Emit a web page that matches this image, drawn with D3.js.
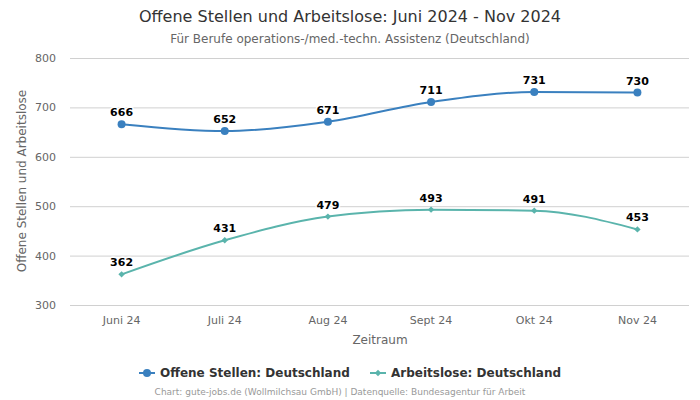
<!DOCTYPE html>
<html><head><meta charset="utf-8">
<script src="https://cdn.jsdelivr.net/npm/d3@7"></script>
<style>body{margin:0;background:#fff;font-family:"DejaVu Sans",sans-serif}</style>
</head><body><svg id="c" width="700" height="400"></svg>
<script>
const categories = ["Juni 24","Juli 24","Aug 24","Sept 24","Okt 24","Nov 24"];
const offeneStellen = [666,652,671,711,731,730];
const arbeitslose = [362,431,479,493,491,453];
const yTicks = [300,400,500,600,700,800];

const svg = d3.select("#c");
const F = "DejaVu Sans, sans-serif";
const x = d3.scaleBand().domain(categories).range([70,689]);
const y = d3.scaleLinear().domain([300,800]).range([305,58]);
const cx = d => x(d) + x.bandwidth()/2;

svg.append("text").attr("x",350).attr("y",22).attr("text-anchor","middle")
  .attr("font-family",F).attr("font-size",16).attr("fill","#333")
  .text("Offene Stellen und Arbeitslose: Juni 2024 - Nov 2024");
svg.append("text").attr("x",350).attr("y",43).attr("text-anchor","middle")
  .attr("font-family",F).attr("font-size",12).attr("fill","#666")
  .text("Für Berufe operations-/med.-techn. Assistenz (Deutschland)");

// grid
svg.append("g").selectAll("line").data(yTicks).join("line")
  .attr("x1",70).attr("x2",689).attr("y1",d=>y(d)+0.5).attr("y2",d=>y(d)+0.5)
  .attr("stroke","#d0d0d0").attr("stroke-width",1);

const ya = svg.append("g").attr("transform","translate(70,0)")
  .call(d3.axisLeft(y).tickValues(yTicks).tickSize(0).tickPadding(14));
ya.select(".domain").remove();
ya.selectAll("text").attr("font-family",F).attr("font-size",11).attr("fill","#666");

const xa = svg.append("g").attr("transform","translate(0,305)")
  .call(d3.axisBottom(x).tickSize(0).tickPadding(11));
xa.select(".domain").remove();
xa.selectAll("text").attr("font-family",F).attr("font-size",11).attr("fill","#666");

svg.append("text").attr("transform","translate(26,181) rotate(-90)").attr("text-anchor","middle")
  .attr("font-family",F).attr("font-size",12).attr("fill","#666").text("Offene Stellen und Arbeitslose");
svg.append("text").attr("x",380).attr("y",344).attr("text-anchor","middle")
  .attr("font-family",F).attr("font-size",12).attr("fill","#666").text("Zeitraum");

const blue = "#3a80bf", teal = "#5ab4ac";
const line = d3.line().x((d,i)=>cx(categories[i])).y(d=>y(d)).curve(d3.curveMonotoneX);

function series(vals,color,diamond){
  svg.append("path").attr("d",line(vals)).attr("fill","none").attr("stroke",color).attr("stroke-width",2);
  const g = svg.append("g");
  if(diamond){
    g.selectAll("path").data(vals).join("path")
      .attr("d",d3.symbol(d3.symbolDiamond2,26)())
      .attr("transform",(d,i)=>`translate(${cx(categories[i])},${y(d)})`)
      .attr("fill",color);
  } else {
    g.selectAll("circle").data(vals).join("circle")
      .attr("cx",(d,i)=>cx(categories[i])).attr("cy",d=>y(d)).attr("r",4).attr("fill",color);
  }
  svg.append("g").selectAll("text").data(vals).join("text")
    .attr("x",(d,i)=>cx(categories[i])).attr("y",d=>y(d)-8).attr("text-anchor","middle")
    .attr("font-family",F).attr("font-size",11).attr("font-weight","bold").attr("fill","#000")
    .attr("stroke","#fff").attr("stroke-width",3).attr("paint-order","stroke").attr("stroke-linejoin","round")
    .text(d=>d);
}
series(offeneStellen,blue,false);
series(arbeitslose,teal,true);

// legend
const lg = svg.append("g");
function legendItem(x0,color,label,diamond){
  lg.append("line").attr("x1",x0).attr("x2",x0+16).attr("y1",373).attr("y2",373).attr("stroke",color).attr("stroke-width",2);
  if(diamond) lg.append("path").attr("d",d3.symbol(d3.symbolDiamond2,26)()).attr("transform",`translate(${x0+8},373)`).attr("fill",color);
  else lg.append("circle").attr("cx",x0+8).attr("cy",373).attr("r",4).attr("fill",color);
  lg.append("text").attr("x",x0+21).attr("y",377).attr("font-family",F).attr("font-size",12)
    .attr("font-weight","bold").attr("fill","#333").text(label);
}
legendItem(139,blue,"Offene Stellen: Deutschland",false);
legendItem(370,teal,"Arbeitslose: Deutschland",true);

svg.append("text").attr("x",340).attr("y",395).attr("text-anchor","middle")
  .attr("font-family",F).attr("font-size",9).attr("fill","#999")
  .text("Chart: gute-jobs.de (Wollmilchsau GmbH) | Datenquelle: Bundesagentur für Arbeit");
</script></body></html>
